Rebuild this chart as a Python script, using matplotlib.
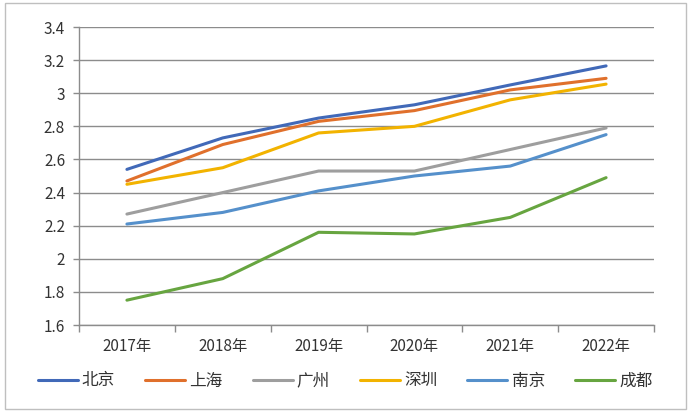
#!/usr/bin/env python3
"""Six-city line chart, 2017-2022."""
import matplotlib
matplotlib.use("Agg")
import matplotlib.pyplot as plt
from matplotlib.patches import Rectangle

plt.rcParams["font.family"] = ["Noto Sans CJK SC", "DejaVu Sans"]

years = ["2017年", "2018年", "2019年", "2020年", "2021年", "2022年"]
cities = ["北京", "上海", "广州", "深圳", "南京", "成都"]
beijing = [2.54, 2.73, 2.85, 2.93, 3.05, 3.165]
shanghai = [2.47, 2.69, 2.83, 2.895, 3.02, 3.09]
guangzhou = [2.27, 2.40, 2.53, 2.53, 2.66, 2.79]
shenzhen = [2.45, 2.55, 2.76, 2.80, 2.96, 3.055]
nanjing = [2.21, 2.28, 2.41, 2.50, 2.56, 2.75]
chengdu = [1.75, 1.88, 2.16, 2.15, 2.25, 2.49]
yticks = [1.6, 1.8, 2.0, 2.2, 2.4, 2.6, 2.8, 3.0, 3.2, 3.4]
ytick_labels = ["1.6", "1.8", "2", "2.2", "2.4", "2.6", "2.8", "3", "3.2", "3.4"]

series = [beijing, shanghai, guangzhou, shenzhen, nanjing, chengdu]
colors = ["#4169B8", "#E0702C", "#9E9E9E", "#F2B300", "#5590CB", "#67A540"]
GRID = "#8C8C8C"
TXT = "#333333"

W, H = 690, 412
fig = plt.figure(figsize=(W / 100, H / 100), dpi=100)
ax = fig.add_axes([79 / W, 1 - 325 / H, (654 - 79) / W, (325 - 27) / H])

x = list(range(len(years)))
for vals, name, c in zip(series, cities, colors):
    ax.plot(x, vals, color=c, lw=2.2, label=name, solid_capstyle="round",
            solid_joinstyle="round", zorder=3)

ax.set_xlim(-0.5, len(years) - 0.5)
ax.set_ylim(1.6, 3.4)
ax.set_yticks(yticks)
ax.set_yticklabels(ytick_labels)
ax.yaxis.grid(True, color=GRID, lw=1.0)
ax.set_axisbelow(True)
for s in ["top", "right"]:
    ax.spines[s].set_visible(False)
for s in ["bottom", "left"]:
    ax.spines[s].set_color(GRID)
    ax.spines[s].set_linewidth(1.0)
ax.tick_params(axis="y", length=4, width=1.0, color=GRID, labelsize=11,
               labelcolor=TXT, pad=6)

# category labels centred, tick marks on boundaries
ax.set_xticks([i - 0.5 for i in range(len(years) + 1)])
ax.set_xticklabels([])
ax.tick_params(axis="x", length=5, color=GRID, width=1.0)
for i, yr in enumerate(years):
    ax.text(i, -0.045, yr, transform=ax.get_xaxis_transform(), ha="center",
            va="top", fontsize=11, color=TXT)

fig.legend(loc="center", bbox_to_anchor=(0.5, 1 - 381 / H), ncol=6,
           frameon=False, fontsize=12, handlelength=2.4, handletextpad=0.25,
           columnspacing=1.8, labelcolor=TXT)

fig.patches.append(Rectangle((5 / W, 3 / H), 681 / W, 406 / H,
                             transform=fig.transFigure, fill=False,
                             edgecolor="#BFBFBF", lw=1.0))

fig.savefig("out.png", dpi=100)
